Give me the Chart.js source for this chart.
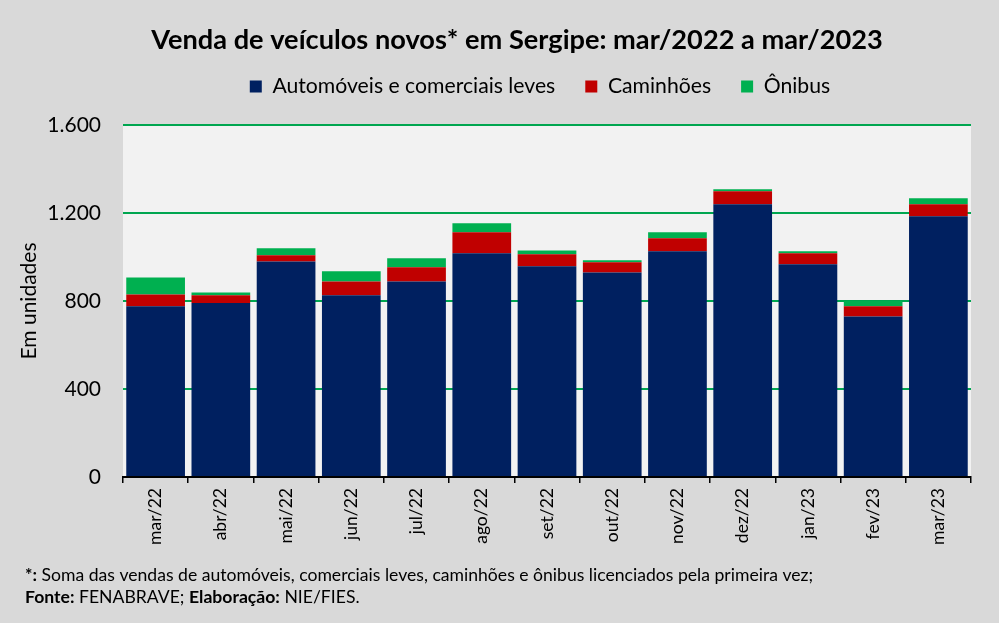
<!DOCTYPE html>
<html lang="pt-BR">
<head>
<meta charset="UTF-8">
<title>Venda de veículos novos em Sergipe</title>
<style>
    html, body { margin: 0; padding: 0; background: #d9d9d9; }
    #wrap { width: 999px; height: 623px; }
</style>
</head>
<body>
<div id="wrap"><canvas id="chart" width="999" height="623"></canvas></div>
<script src="https://cdn.jsdelivr.net/npm/chart.js"></script>
<script>
// Meses (categorias)
const meses = ["mar/22", "abr/22", "mai/22", "jun/22", "jul/22", "ago/22", "set/22",
               "out/22", "nov/22", "dez/22", "jan/23", "fev/23", "mar/23"];

// Vendas por segmento (unidades)
const automoveis = [776, 791, 980, 826, 889, 1017, 958, 930, 1026, 1240, 967, 730, 1185];
const caminhoes  = [54, 35, 28, 63, 64, 95, 54, 46, 59, 59, 50, 46, 55];
const onibus     = [77, 13, 32, 46, 41, 41, 18, 9, 27, 9, 9, 24, 27];

// Marcas do eixo Y
const yTicks = [0, 400, 800, 1200, 1600];

const FONT = "Lato, 'Noto Sans', sans-serif";
const TOPO = 46;          // espaço reservado para o título
const AREA_TOPO = 125;    // onde começa a área do gráfico
const LEGENDA_CENTRO = 540;

const fmt = v => v.toLocaleString("pt-BR");

// fundo, altura e posição da legenda
const fundo = {
    id: "fundo",
    afterInit(chart) {
        const lg = chart.legend;
        const fit = lg.fit;
        lg.fit = function () {
            fit.call(this);
            this.height = AREA_TOPO - TOPO;
        };
    },
    afterLayout(chart) {
        const lg = chart.legend;
        const dx = LEGENDA_CENTRO - (lg.left + lg.right) / 2;
        lg.left += dx;
        lg.right += dx;
    },
    beforeDraw(chart) {
        const { ctx, chartArea: a } = chart;
        ctx.save();
        ctx.fillStyle = "#d9d9d9";
        ctx.fillRect(0, 0, chart.width, chart.height);
        ctx.fillStyle = "#f2f2f2";
        ctx.fillRect(a.left, a.top, a.right - a.left, a.bottom - a.top);
        ctx.restore();
    }
};

// título e notas de rodapé
const textos = {
    id: "textos",
    afterDraw(chart) {
        const ctx = chart.ctx;
        ctx.save();
        ctx.fillStyle = "#000";
        ctx.textBaseline = "middle";
        ctx.textAlign = "center";
        ctx.font = "bold 27.2px " + FONT;
        ctx.fillText("Venda de veículos novos* em Sergipe: mar/2022 a mar/2023", 517, 40);

        ctx.textAlign = "left";
        const linha = (partes, y) => {
            let x = 25;
            partes.forEach(([t, bold]) => {
                ctx.font = (bold ? "bold " : "") + "17.6px " + FONT;
                ctx.fillText(t, x, y);
                x += ctx.measureText(t).width;
            });
        };
        linha([["*:", true], [" Soma das vendas de automóveis, comerciais leves, caminhões e ônibus licenciados pela primeira vez;", false]], 575);
        linha([["Fonte:", true], [" FENABRAVE; ", false], ["Elaboração:", true], [" NIE/FIES.", false]], 597);
        ctx.restore();
    }
};

new Chart(document.getElementById("chart"), {
    type: "bar",
    data: {
        labels: meses,
        datasets: [
            { label: "Automóveis e comerciais leves", data: automoveis, backgroundColor: "#002060" },
            { label: "Caminhões", data: caminhoes, backgroundColor: "#c00000" },
            { label: "Ônibus", data: onibus, backgroundColor: "#00b050" }
        ]
    },
    options: {
        responsive: false,
        animation: false,
        layout: { padding: { top: TOPO, right: 28, left: 0, bottom: 0 } },
        datasets: { bar: { barPercentage: 0.9, categoryPercentage: 1, borderWidth: 0 } },
        plugins: {
            title: { display: false },
            tooltip: { enabled: false },
            legend: {
                position: "top",
                labels: {
                    font: { family: FONT, size: 21.2 },
                    color: "#000",
                    boxWidth: 12,
                    boxHeight: 12,
                    padding: 30
                }
            }
        },
        scales: {
            x: {
                stacked: true,
                afterFit(s) { s.height = 146; },
                border: { display: true, color: "#000", width: 2 },
                grid: { display: true, drawOnChartArea: false, offset: true, color: "#000", tickLength: 6, lineWidth: 1.5 },
                ticks: {
                    minRotation: 90, maxRotation: 90, padding: 5,
                    font: { family: FONT, size: 17.5 }, color: "#000"
                }
            },
            y: {
                stacked: true,
                min: 0, max: 1600,
                afterFit(s) { s.width = 123; },
                afterBuildTicks(s) { s.ticks = yTicks.map(v => ({ value: v })); },
                border: { display: false },
                grid: { color: "#00a650", lineWidth: 2, drawTicks: false },
                ticks: {
                    padding: 22,
                    font: { family: FONT, size: 21 }, color: "#000",
                    callback: v => fmt(v)
                },
                title: {
                    display: true, text: "Em unidades",
                    font: { family: FONT, size: 21 }, color: "#000",
                    padding: { top: 17, bottom: 0 }
                }
            }
        }
    },
    plugins: [fundo, textos]
});
</script>
</body>
</html>
